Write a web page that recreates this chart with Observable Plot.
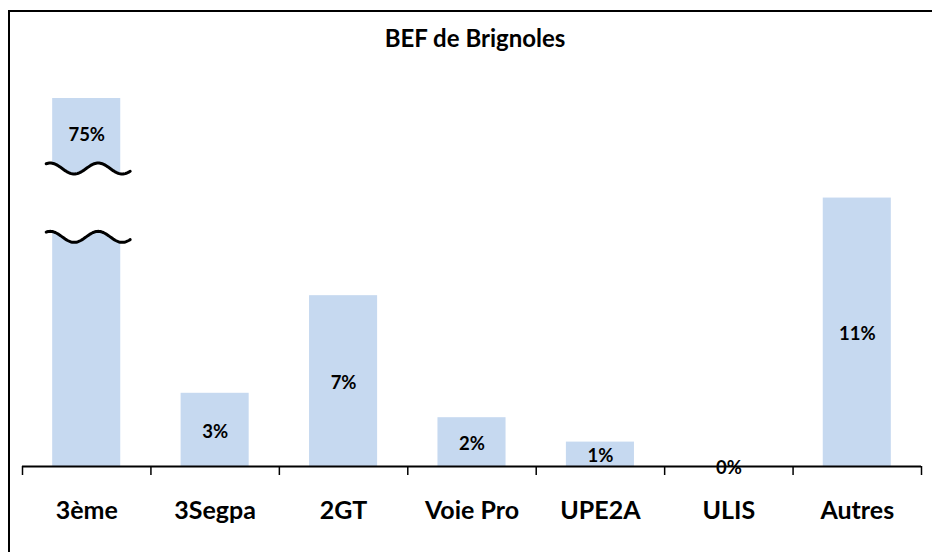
<!DOCTYPE html>
<html><head><meta charset="utf-8">
<script src="https://cdn.jsdelivr.net/npm/d3@7"></script>
<script src="https://cdn.jsdelivr.net/npm/@observablehq/plot@0.6"></script>
<style>
body{margin:0;background:#fff;overflow:hidden;font-family:Lato,sans-serif}
#chart{position:absolute;left:0;top:0}
#frame{position:absolute;left:8px;top:10px;width:1000px;height:1000px;border-left:2px solid #000;border-top:2px solid #000;pointer-events:none}
</style></head><body>
<div id="chart"></div><div id="frame"></div>
<script>
const title = "BEF de Brignoles";
const categories = ["3ème", "3Segpa", "2GT", "Voie Pro", "UPE2A", "ULIS", "Autres"];
const values = [75, 3, 7, 2, 1, 0, 11];
const labels = ["75%", "3%", "7%", "2%", "1%", "0%", "11%"];
const brokenCategory = "3ème";
const axisMax = 15.08;      // value shown at the top of the (broken) tallest bar
const breakLow = 9.39, breakHigh = 12.19; // axis-break band on the broken bar

const data = categories.map((c, i) => ({cat: c, value: values[i], label: labels[i]}));

const W = 932, H = 552, mL = 22, mR = 11, mT = 98, mB = 86;
const step = (W - mL - mR) / categories.length;

function breakMark(index, scales) {
  const xs = scales.x, ys = scales.y;
  const x0 = xs(brokenCategory);
  const bw = typeof xs.bandwidth === "function" ? xs.bandwidth() : xs.bandwidth;
  const xa = x0 - 6, xb = x0 + bw + 10;
  const wave = yc => d3.range(xa, xb + 0.5, 1).map(x => [x, yc - 5.5 * Math.cos(2 * Math.PI * (x - x0 + 2) / 48)]);
  const top = wave(ys(breakHigh)), bot = wave(ys(breakLow));
  const g = d3.create("svg:g");
  const line = d3.line();
  g.append("path").attr("d", line(top.concat(bot.slice().reverse())) + "Z").attr("fill", "#fff");
  for (const w of [top, bot]) {
    g.append("path").attr("d", line(w)).attr("fill", "none").attr("stroke", "#000")
      .attr("stroke-width", 3).attr("stroke-linecap", "round");
  }
  return g.node();
}

const chart = Plot.plot({
  width: W, height: H,
  marginLeft: mL, marginRight: mR, marginTop: mT, marginBottom: mB,
  style: {fontFamily: "Lato, sans-serif", color: "#000", background: "#fff", overflow: "visible"},
  x: {domain: categories, paddingInner: 0.47, paddingOuter: 0.235, round: false, axis: null},
  y: {domain: [0, axisMax], clamp: true, axis: null},
  marks: [
    Plot.barY(data, {x: "cat", y: "value", fill: "#c6d9f0"}),
    breakMark,
    Plot.text(data, {
      x: "cat",
      y: d => d.value > axisMax ? axisMax - 1.4 : d.value / 2,
      text: "label", fontSize: 18.5, fontWeight: "bold", fill: "#000", dy: 2
    }),
    Plot.ruleY([0], {stroke: "#000", strokeWidth: 2}),
    Plot.ruleX(categories, {x: d => d, y1: 0, y2: 0, dx: -step / 2, insetBottom: -9, stroke: "#000", strokeWidth: 1.5}),
    Plot.ruleX([categories[categories.length - 1]], {x: d => d, y1: 0, y2: 0, dx: step / 2, insetBottom: -9, stroke: "#000", strokeWidth: 1.5}),
    Plot.axisX({tickSize: 0, tickPadding: 35, fontSize: 25, fontWeight: "bold", label: null, fill: "#000"}),
    Plot.text([title], {frameAnchor: "top", dy: -59, dx: 3, lineAnchor: "middle", fontSize: 24, fontWeight: "bold", fill: "#000"})
  ]
});
document.getElementById("chart").appendChild(chart);
</script>
</body></html>
